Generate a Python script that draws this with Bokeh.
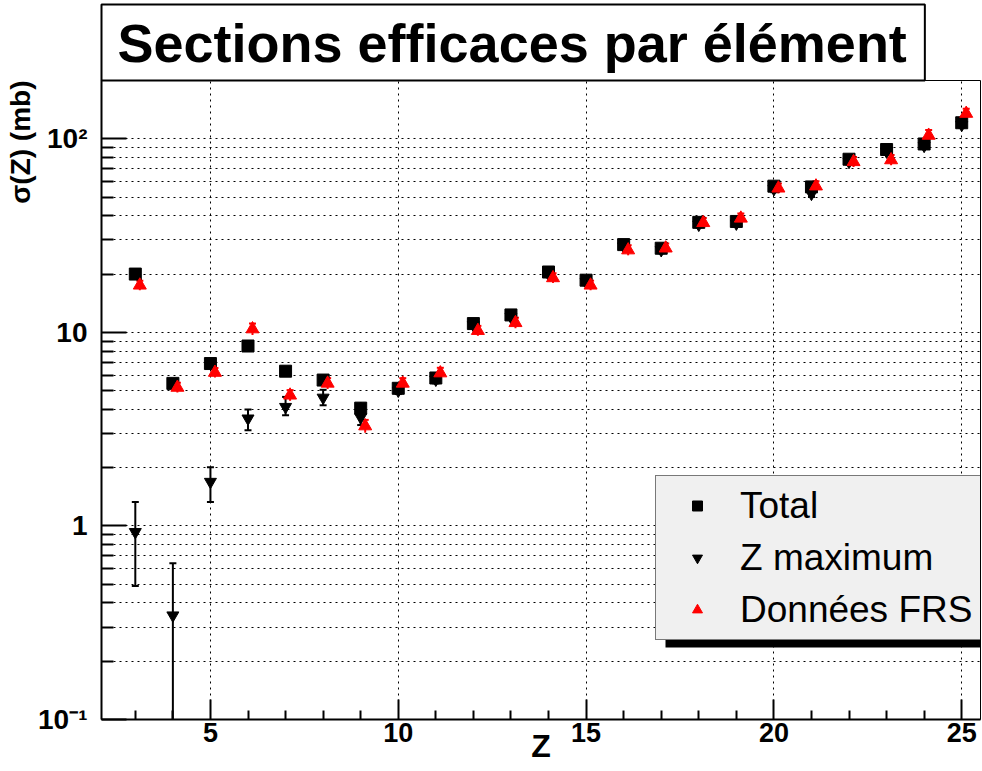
import numpy as np
from bokeh.plotting import figure
from bokeh.models import (Range1d, FixedTicker, Title, Legend, LegendItem,
                          ColumnDataSource, BoxAnnotation)
from bokeh.transform import dodge
from bokeh.embed import file_html
from bokeh.resources import INLINE

# ---------------- data ----------------
z = list(range(3, 26))
total = [20.0, 5.45, 6.9, 8.5, 6.3, 5.67, 4.06, 5.14, 5.81, 11.1, 12.3, 20.5,
         18.6, 28.4, 27.2, 37.0, 37.4, 56.9, 56.4, 78.4, 88.0, 94.0, 121.0]
total_err = [1.0, 0.35, 0.35, 0.45, 0.4, 0.35, 0.3, 0.3, 0.3, 0.4, 0.4, 0.7,
             0.7, 1.0, 1.0, 1.2, 1.3, 2.5, 2.5, 3.5, 4.5, 5.0, 6.5]
zmax = [0.93, 0.345, 1.69, 3.59, 4.12, 4.6, 3.64, 5.0, 5.7, 10.9, 12.0, 20.0,
        18.2, 27.8, 26.6, 36.0, 36.5, 55.0, 52.0, 76.0, 86.0, 92.0, 118.0]
zmax_err_low = [0.44, 0.295, 0.36, 0.47, 0.39, 0.4, 0.32, 0.2, 0.25, 0.4, 0.4,
                0.7, 0.7, 1.0, 1.0, 1.2, 1.2, 2.0, 2.0, 2.5, 3.0, 3.0, 4.0]
zmax_err_high = [0.40, 0.297, 0.32, 0.41, 0.52, 0.45, 0.36, 0.2, 0.25, 0.4, 0.4,
                 0.7, 0.7, 1.0, 1.0, 1.2, 1.2, 2.0, 2.0, 2.5, 3.0, 3.0, 4.0]
frs = [17.5, 5.19, 6.2, 10.4, 4.73, 5.45, 3.28, 5.45, 6.16, 10.2, 11.2, 19.1,
       17.5, 26.6, 27.2, 36.8, 38.8, 55.5, 56.9, 76.0, 77.7, 104.0, 135.0]
frs_err = [1.0, 0.3, 0.35, 0.7, 0.3, 0.35, 0.25, 0.35, 0.4, 0.6, 0.7, 1.1,
           1.0, 1.6, 1.6, 2.2, 2.3, 3.3, 3.4, 4.6, 4.7, 7.0, 8.0]

x_major = [5, 10, 15, 20, 25]
y_major = [0.1, 1, 10, 100]
y_labels = ["10\u207b\u00b9", "1", "10", "10\u00b2"]

title_text = "Sections efficaces par élément"
y_title = "σ(Z) (mb)"
x_title = "Z"
legend_labels = ["Total", "Z maximum", "Données FRS"]

# ---------------- sources ----------------
t = np.array(total); te = np.array(total_err)
m = np.array(zmax)
f = np.array(frs); fe = np.array(frs_err)
src = ColumnDataSource(dict(
    z=z, total=total, t_lo=t - te, t_hi=t + te,
    zmax=zmax, m_lo=m - np.array(zmax_err_low), m_hi=m + np.array(zmax_err_high),
    frs=frs, f_lo=f - fe, f_hi=f + fe,
))

FONT = "Liberation Sans"

p = figure(width=982, height=771, output_backend="svg", toolbar_location=None,
           y_axis_type="log",
           x_range=Range1d(2.1, 25.5), y_range=Range1d(0.1, 200),
           min_border_left=101, min_border_right=2, min_border_top=80,
           min_border_bottom=52)
p.background_fill_color = "white"
p.border_fill_color = "white"
p.outline_line_color = "black"
p.outline_line_width = 1

# ticks
x_minor = [v for v in range(3, 26) if v not in x_major]
y_minor = [k * 10.0 ** e for e in (-1, 0, 1) for k in range(2, 10)]
p.xaxis.ticker = FixedTicker(ticks=x_major, minor_ticks=x_minor)
p.yaxis.ticker = FixedTicker(ticks=y_major, minor_ticks=y_minor)
p.yaxis.major_label_overrides = dict(zip(y_major, y_labels))

for ax in (p.xaxis, p.yaxis):
    ax.axis_line_width = 2
    ax.axis_line_color = "black"
    ax.major_tick_line_width = 2
    ax.minor_tick_line_width = 2
    ax.major_tick_out = 0
    ax.minor_tick_out = 0
    ax.major_label_text_font = FONT
    ax.major_label_text_font_style = "bold"
    ax.major_label_text_color = "black"
p.xaxis.major_tick_in = 20
p.xaxis.minor_tick_in = 9
p.yaxis.major_tick_in = 25
p.yaxis.minor_tick_in = 12
p.xaxis.major_label_text_font_size = "27px"
p.yaxis.major_label_text_font_size = "28px"
p.xaxis.major_label_standoff = 3
p.yaxis.major_label_standoff = 14

p.xaxis.axis_label = x_title
p.xaxis.axis_label_text_font = FONT
p.xaxis.axis_label_text_font_style = "bold"
p.xaxis.axis_label_text_font_size = "32px"
p.xaxis.axis_label_text_color = "black"
p.xaxis.axis_label_standoff = -17

# grids
for g in (p.xgrid, p.ygrid):
    g.grid_line_color = "black"
    g.grid_line_dash = "2 4"
    g.grid_line_width = 1
p.ygrid.minor_grid_line_color = "black"
p.ygrid.minor_grid_line_dash = "2 4"
p.ygrid.minor_grid_line_width = 1

# error bars
fx = dodge("z", 0.12, range=p.x_range)
p.segment(x0="z", y0="t_lo", x1="z", y1="t_hi", source=src, line_color="black", line_width=2)
p.segment(x0="z", y0="m_lo", x1="z", y1="m_hi", source=src, line_color="black", line_width=2)
p.scatter(x="z", y="m_lo", source=src, marker="dash", size=7, line_width=2, line_color="black")
p.scatter(x="z", y="m_hi", source=src, marker="dash", size=7, line_width=2, line_color="black")
p.segment(x0=fx, y0="f_lo", x1=fx, y1="f_hi", source=src, line_color="red", line_width=2)
p.scatter(x=fx, y="f_hi", source=src, marker="dash", size=7, line_width=2, line_color="red")

# markers
r_total = p.scatter(x="z", y="total", source=src, marker="square", size=12,
                    fill_color="black", line_color="black")
r_zmax = p.scatter(x="z", y="zmax", source=src, marker="inverted_triangle", size=12,
                   fill_color="black", line_color="black")
r_frs = p.scatter(x=fx, y="frs", source=src, marker="triangle", size=13,
                  fill_color="red", line_color="red")

# legend shadow
p.add_layout(BoxAnnotation(left=564, right=890, bottom=72, top=100,
                           left_units="screen", right_units="screen",
                           bottom_units="screen", top_units="screen",
                           fill_color="black", fill_alpha=1, line_color=None))

legend = Legend(items=[LegendItem(label=legend_labels[0], renderers=[r_total]),
                       LegendItem(label=legend_labels[1], renderers=[r_zmax]),
                       LegendItem(label=legend_labels[2], renderers=[r_frs])],
                location=(554, 79))
legend.label_text_font = FONT
legend.label_text_font_size = "37px"
legend.label_text_color = "black"
legend.background_fill_color = "#f0f0f0"
legend.background_fill_alpha = 1
legend.border_line_color = "black"
legend.border_line_width = 1
legend.padding = 8
legend.spacing = 9
legend.glyph_width = 66
legend.glyph_height = 25
legend.label_height = 43
legend.label_standoff = 10
legend.margin = 0
p.add_layout(legend)

# title box (above)
p.add_layout(Title(text=title_text, align="left", offset=0, standoff=0,
                   text_font=FONT, text_font_style="bold", text_font_size="54px",
                   text_color="black", background_fill_color="white",
                   border_line_color="black", border_line_width=2,
                   padding=dict(left=16, right=18, top=8, bottom=8)), "above")

# y axis title (left, at top end)
p.add_layout(Title(text=y_title, align="right", offset=0, standoff=0,
                   text_font=FONT, text_font_style="bold", text_font_size="28px",
                   text_color="black"), "left")

open("out.html", "w").write(file_html(p, INLINE))
